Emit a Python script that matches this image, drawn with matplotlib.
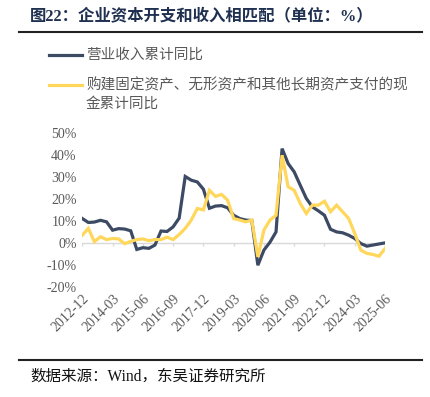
import matplotlib
matplotlib.use("Agg")
import matplotlib.pyplot as plt
import numpy as np

plt.rcParams['font.family'] = ['Noto Sans CJK SC', 'DejaVu Sans']

# quarterly, 2012-12 .. 2025-06
quarters = [f"{y}-{m:02d}" for y in range(2012, 2026) for m in (3, 6, 9, 12)]
quarters = quarters[quarters.index("2012-12"):quarters.index("2025-06") + 1]

revenue_yoy = [11.1, 9.3, 9.5, 10.3, 9.6, 5.8, 6.5, 6.3, 5.5, -3.0,
               -2.2, -2.5, -1.0, 5.4, 5.2, 7.3, 11.3, 30.3, 28.6, 27.8,
               24.5, 15.8, 16.8, 17.0, 16.0, 12.6, 11.1, 10.4, 10.2, -10.2,
               -3.3, 0.3, 5.0, 43.0, 36.2, 32.4, 26.3, 20.3, 16.4, 14.6,
               12.6, 6.2, 5.0, 4.6, 3.5, 2.0, -0.3, -1.5, -1.0, -0.5, 0.0]
capex_yoy = [3.5, 6.6, 0.5, 2.8, 1.5, 2.0, 1.8, -0.4, 0.7, 1.5,
             1.8, 1.0, 1.5, 1.5, 2.6, 1.5, 3.8, 6.6, 10.4, 15.7,
             15.0, 24.0, 21.2, 22.1, 19.5, 11.1, 10.4, 9.6, 10.4, -6.4,
             5.8, 10.4, 12.6, 40.0, 25.6, 24.0, 18.0, 13.4, 17.2, 17.2,
             19.0, 14.2, 17.2, 14.2, 11.1, 4.3, -3.3, -4.8, -5.3, -6.1, -2.6]

series_names = ["营业收入累计同比", "购建固定资产、无形资产和其他长期资产支付的现\n金累计同比"]
dark = "#3C4A64"
gold = "#FFD75A"
grey = "#595959"
mixed = ['Liberation Serif', 'Noto Sans CJK SC']

fig = plt.figure(figsize=(4.31, 3.97), dpi=100)
ax = fig.add_axes([82.3 / 431, 1 - 286.7 / 397, (385 - 82.3) / 431, (286.7 - 133.3) / 397])

x = np.arange(len(quarters))
l1, = ax.plot(x, revenue_yoy, color=dark, lw=2.3, solid_joinstyle='miter')
l2, = ax.plot(x, capex_yoy, color=gold, lw=2.3, solid_joinstyle='miter')

ax.set_xlim(0, len(quarters) - 1)
ax.set_ylim(-20, 50)
ax.set_yticks(range(-20, 51, 10))
ax.set_yticklabels([f"{v}%" for v in range(-20, 51, 10)], family='Liberation Serif', fontsize=10, color=grey)
ax.tick_params(axis='y', length=0, pad=4)

tick_pos = x[::5]
ax.set_xticks(tick_pos)
ax.set_xticklabels([quarters[i] for i in tick_pos], rotation=45, ha='right', rotation_mode='anchor',
                   family='Liberation Serif', fontsize=10, color=grey)
ax.tick_params(axis='x', length=0, pad=4)
for s in ax.spines.values():
    s.set_visible(False)
ax.axhline(0, color="#D9D9D9", lw=1, zorder=0)
ax.vlines(tick_pos, -1.3, 0, color="#D9D9D9", lw=1, zorder=0)

# legend drawn as figure text
for ypx, line, name in [(55, l1, series_names[0]), (85, l2, series_names[1])]:
    fig.add_artist(plt.Line2D([49 / 431, 82 / 431], [1 - ypx / 397] * 2, color=line.get_color(), lw=2.3))
    fig.text(86 / 431, 1 - (ypx - 7.5) / 397, name, fontsize=10.5, color=grey, va='top', linespacing=1.45)

fig.text(30 / 431, 1 - 16 / 397, "图22：企业资本开支和收入相匹配（单位：%）", fontsize=11.8, fontweight='bold',
         color="#1F3050", va='center', family=mixed)
fig.add_artist(plt.Line2D([19 / 431, 422 / 431], [1 - 32 / 397] * 2, color="#222222", lw=1.5))
fig.add_artist(plt.Line2D([19 / 431, 422 / 431], [1 - 360 / 397] * 2, color="#222222", lw=1.5))
fig.text(30 / 431, 1 - 377 / 397, "数据来源：Wind，东吴证券研究所", fontsize=11.2, color="#111111", va='center',
         family=mixed)

fig.savefig("out.png", dpi=100)
